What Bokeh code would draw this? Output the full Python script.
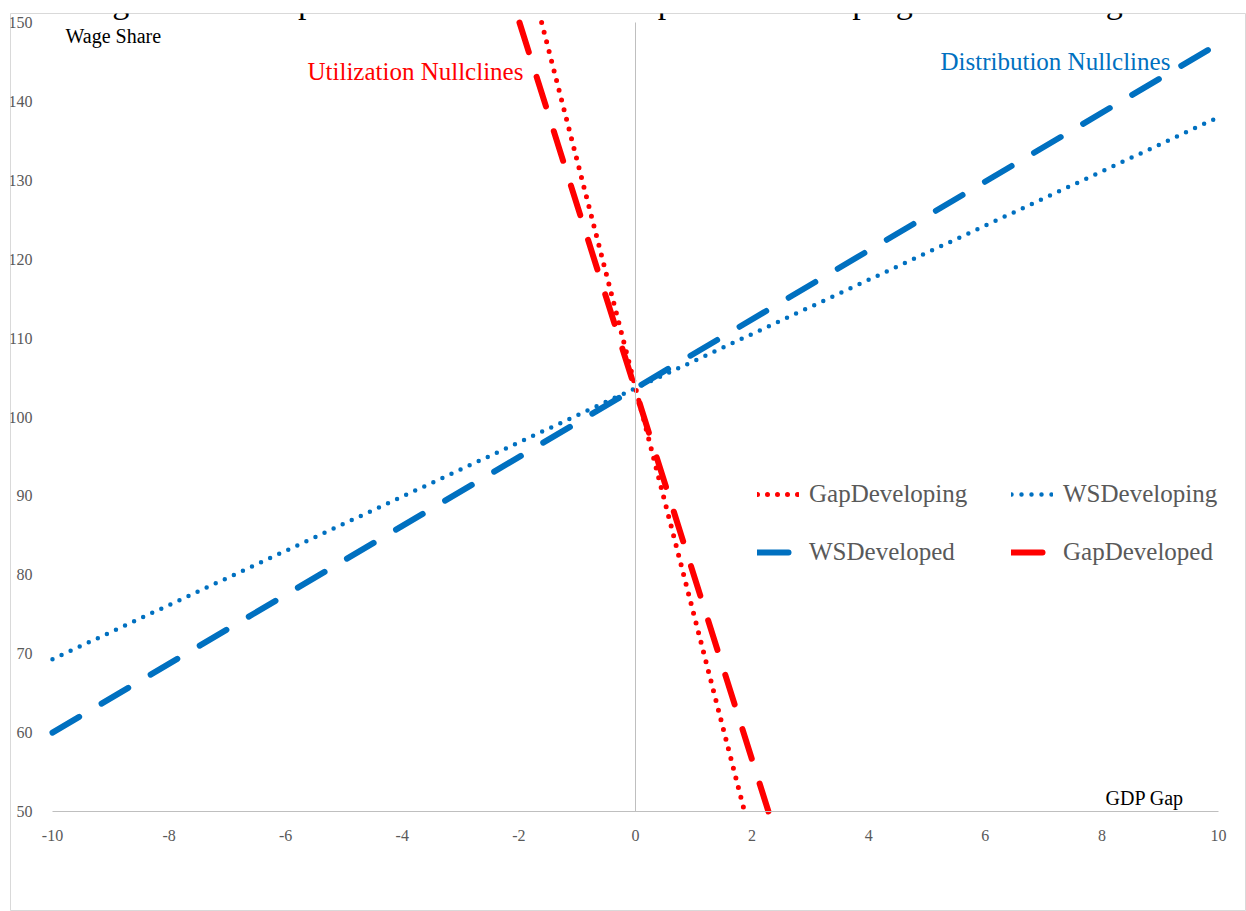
from bokeh.plotting import figure
from bokeh.models import (Range1d, LinearAxis, FixedTicker, Legend, LegendItem, Label,
                          PrintfTickFormatter)
from bokeh.embed import file_html
from bokeh.resources import INLINE

# ---- data ----
ws_x = [-10, 10]
ws_developing = [69.3, 138.0]
ws_developed = [60.0, 147.3]

gap_developing_x = [-1.61, 1.87]
gap_developing_y = [150, 50]
gap_developed_x = [-1.99, 2.28]
gap_developed_y = [150, 50]

x_ticks = [-10, -8, -6, -4, -2, 0, 2, 4, 6, 8, 10]
y_ticks = [50, 60, 70, 80, 90, 100, 110, 120, 130, 140, 150]

title_text = "Figure 11: Comparison of NAIRU Developed vs Developing Countries' Regimes"

BLUE = "#0070C0"
RED = "#FF0000"
GRAY_TXT = "#595959"
SERIF = "Liberation Serif"

p = figure(width=1246, height=911, output_backend="svg", toolbar_location=None,
           x_range=Range1d(-10.720, 10.480), y_range=Range1d(37.326, 151.141),
           x_axis_location=None, y_axis_location=None,
           min_border_left=10, min_border_top=13, min_border_right=0, min_border_bottom=0)
p.outline_line_color = "#d9d9d9"
p.outline_line_width = 1
p.background_fill_color = "white"
p.border_fill_color = "white"
p.xgrid.visible = False
p.ygrid.visible = False

fmt = PrintfTickFormatter(format="%d")

# axes
xa = LinearAxis(fixed_location=50, ticker=FixedTicker(ticks=x_ticks), bounds=(-10, 10),
                formatter=fmt)
xa.axis_line_color = "#bfbfbf"
xa.major_tick_line_color = None
xa.minor_tick_line_color = None
xa.major_label_text_font = SERIF
xa.major_label_text_font_size = "16px"
xa.major_label_text_color = GRAY_TXT
xa.major_label_standoff = 12
p.add_layout(xa, "below")

ya = LinearAxis(fixed_location=-10, ticker=FixedTicker(ticks=y_ticks), bounds=(50, 150),
                formatter=fmt)
ya.axis_line_color = None
ya.major_tick_line_color = None
ya.minor_tick_line_color = None
ya.major_label_text_font = SERIF
ya.major_label_text_font_size = "16px"
ya.major_label_text_color = GRAY_TXT
ya.major_label_standoff = 14
p.add_layout(ya, "left")

ya0 = LinearAxis(fixed_location=0, ticker=FixedTicker(ticks=[]), bounds=(50, 150))
ya0.axis_line_color = "#bfbfbf"
ya0.major_tick_line_color = None
ya0.minor_tick_line_color = None
ya0.major_label_text_color = None
p.add_layout(ya0, "left")

# lines
r_wsdev = p.line(ws_x, ws_developed, line_color=BLUE, line_width=6,
                 line_dash="31 26", line_cap="round")
r_wsdvg = p.line(ws_x, ws_developing, line_color=BLUE, line_width=4.5,
                 line_dash="0 10", line_cap="round")
r_gapdev = p.line(gap_developed_x, gap_developed_y, line_color=RED, line_width=6,
                  line_dash="31 26", line_cap="round")
r_gapdvg = p.line(gap_developing_x, gap_developing_y, line_color=RED, line_width=5,
                  line_dash="0 10", line_cap="round")

def make_legend(items, x):
    lg = Legend(items=items, location=(x, 345), orientation="vertical")
    lg.label_text_font = SERIF
    lg.label_text_font_size = "25px"
    lg.label_text_color = GRAY_TXT
    lg.glyph_width = 42
    lg.glyph_height = 28
    lg.label_height = 28
    lg.label_standoff = 10
    lg.spacing = 30
    lg.padding = 0
    lg.margin = 0
    lg.border_line_color = None
    lg.background_fill_alpha = 0
    return lg

leg_a = make_legend([LegendItem(label="GapDeveloping", renderers=[r_gapdvg]),
                     LegendItem(label="WSDeveloped", renderers=[r_wsdev])], 747)
leg_b = make_legend([LegendItem(label="WSDeveloping", renderers=[r_wsdvg]),
                     LegendItem(label="GapDeveloped", renderers=[r_gapdev])], 1001)
p.add_layout(leg_a, "center")
p.add_layout(leg_b, "center")

# texts
def add_label(x, y, text, size, color, align="left", baseline="middle"):
    p.add_layout(Label(x=x, y=y, text=text, text_font=SERIF, text_font_size=size,
                       text_color=color, text_align=align, text_baseline=baseline))

add_label(0, 150.33, title_text, "34px", "black", align="center", baseline="bottom")
add_label(-9.777, 148.23, "Wage Share", "20px", "black")
add_label(-5.626, 143.79, "Utilization Nullclines", "25px", RED)
add_label(5.232, 145.06, "Distribution Nullclines", "25px", BLUE)
add_label(8.062, 51.65, "GDP Gap", "20px", "black")

open("out.html", "w").write(file_html(p, INLINE))
